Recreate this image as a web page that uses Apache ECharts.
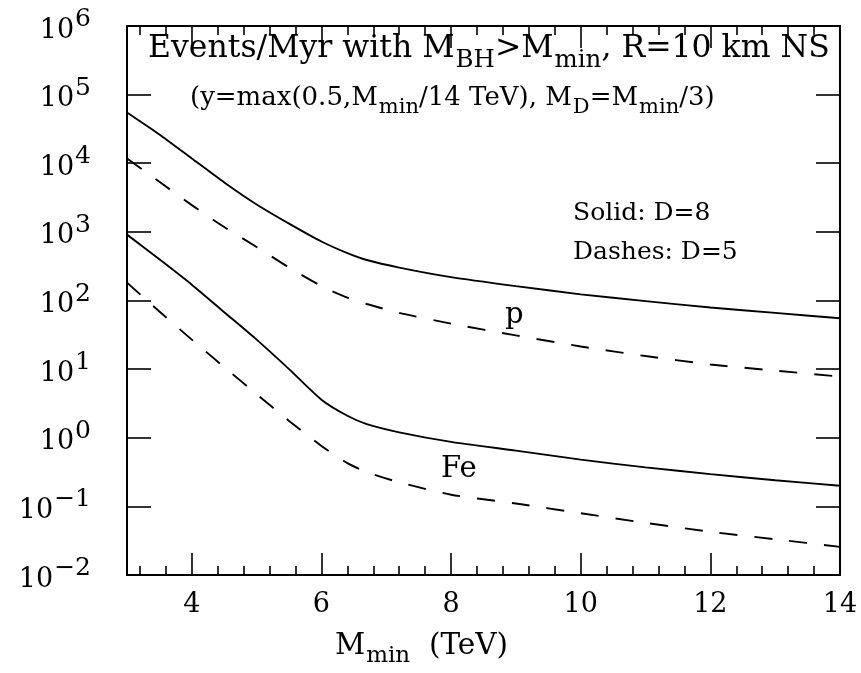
<!DOCTYPE html>
<html>
<head>
<meta charset="utf-8">
<script src="https://cdn.jsdelivr.net/npm/echarts@6/dist/echarts.min.js"></script>
<style>html,body{margin:0;padding:0;background:#fff;}#c{width:861px;height:673px;}</style>
</head>
<body>
<div id="c"></div>
<script>
// ---- data ----
const mMin = [3, 3.5, 4, 4.5, 5, 5.5, 6, 6.4, 6.7, 7.2, 8, 9, 10, 11, 12, 13, 14];
const pSolidD8 = [55000, 26300, 11750, 5250, 2510, 1320, 724, 490, 389, 302, 219, 162, 123, 98, 79, 66, 55];
const pDashD5 = [11700, 5370, 2455, 1175, 603, 302, 162, 110, 89, 66, 46, 31, 21.4, 15.5, 11.7, 9.5, 7.8];
const feSolidD8 = [912, 398, 170, 67.6, 26.9, 10.0, 3.59, 2.09, 1.58, 1.20, 0.87, 0.65, 0.48, 0.37, 0.295, 0.24, 0.20];
const feDashD5 = [182, 69, 26.9, 10.7, 4.32, 1.76, 0.759, 0.427, 0.316, 0.224, 0.148, 0.110, 0.0794, 0.0575, 0.0427, 0.0331, 0.0257];
const xMajorTicks = [4, 6, 8, 10, 12, 14];
const xMinorTicks = [3.2, 3.6, 4.4, 4.8, 5.2, 5.6, 6.4, 6.8, 7.2, 7.6, 8.4, 8.8, 9.2, 9.6, 10.4, 10.8, 11.2, 11.6, 12.4, 12.8, 13.2, 13.6];

const FONT = 'DejaVu Serif';
const pairs = (xs, ys) => xs.map((x, i) => [x, ys[i]]);

const chart = echarts.init(document.getElementById('c'), null, {renderer: 'canvas'});

const baseX = {
  type: 'value', min: 3, max: 14, gridIndex: 0,
  splitLine: {show: false},
  axisLine: {show: false},
  axisLabel: {show: false},
};
const tickLine = {color: '#000', width: 1.6};

const sup = (v) => {
  const e = Math.round(Math.log10(v));
  const s = e < 0 ? '\u2212' + Math.abs(e) : String(e);
  return '{b|10}{s|' + s + '}';
};
const supRich = {
  b: {fontFamily: FONT, fontSize: 27, fontWeight: 'normal', lineHeight: 28, color: '#000', verticalAlign: 'bottom'},
  s: {fontFamily: FONT, fontSize: 25, fontWeight: 'normal', lineHeight: 26, color: '#000', padding: [0, 0, 12, 1], verticalAlign: 'bottom'}
};
const subRich = (base, sub, pad) => ({
  a: {fontFamily: FONT, fontSize: base, fontWeight: 'normal', lineHeight: base + 2, color: '#000', verticalAlign: 'top'},
  u: {fontFamily: FONT, fontSize: sub, fontWeight: 'normal', lineHeight: sub, color: '#000', padding: [pad, 0, 0, 1], verticalAlign: 'top'}
});
const plain = (size) => ({fontFamily: FONT, fontSize: size, fontWeight: 'normal', color: '#000'});
const lineOf = (data, dash) => ({
  type: 'line', data: data, smooth: 0.2, showSymbol: false, symbol: 'none',
  lineStyle: {color: '#000', width: 1.9, type: dash ? [18, 17] : 'solid'}
});

const option = {
  backgroundColor: '#fff',
  animation: false,
  grid: {left: 127, right: 21, top: 26, bottom: 98, containLabel: false},
  title: [
    {left: 148, top: 33, padding: 0,
     text: '{a|Events/Myr with M}{u|BH}{a|>M}{u|min}{a|, R=10 km NS}',
     textStyle: {rich: subRich(31.5, 24.5, 15)}},
    {left: 190, top: 85, padding: 0,
     text: '{a|(y=max(0.5,M}{u|min}{a|/14 TeV), M}{u|D}{a|=M}{u|min}{a|/3)}',
     textStyle: {rich: subRich(26, 21, 12)}},
    {left: 573, top: 201, padding: 0, text: 'Solid: D=8', textStyle: plain(25)},
    {left: 573, top: 240, padding: 0, text: 'Dashes: D=5', textStyle: plain(25)},
    {left: 505, top: 301, padding: 0, text: 'p', textStyle: plain(29)},
    {left: 441, top: 455, padding: 0, text: 'Fe', textStyle: plain(29)},
    {left: 335, top: 631, padding: 0,
     text: '{a|M}{u|min}{a|  (TeV)}',
     textStyle: {rich: subRich(29.5, 23, 14)}}
  ],
  xAxis: [
    Object.assign({}, baseX, {
      position: 'bottom',
      axisLine: {show: true, lineStyle: {color: '#000', width: 2}},
      axisTick: {show: true, inside: true, length: 22, customValues: xMajorTicks, lineStyle: tickLine},
      axisLabel: {show: true, customValues: xMajorTicks, margin: 16, color: '#000', fontFamily: FONT, fontSize: 27}
    }),
    Object.assign({}, baseX, {
      position: 'bottom',
      axisTick: {show: true, inside: true, length: 9, customValues: xMinorTicks, lineStyle: tickLine}
    }),
    Object.assign({}, baseX, {
      position: 'top',
      axisLine: {show: true, lineStyle: {color: '#000', width: 2}},
      axisTick: {show: true, inside: true, length: 22, customValues: xMajorTicks, lineStyle: tickLine}
    }),
    Object.assign({}, baseX, {
      position: 'top',
      axisTick: {show: true, inside: true, length: 9, customValues: xMinorTicks, lineStyle: tickLine}
    })
  ],
  yAxis: [
    {type: 'log', logBase: 10, min: 0.01, max: 1e6, interval: 1, position: 'left',
     splitLine: {show: false},
     axisLine: {show: true, lineStyle: {color: '#000', width: 2}},
     axisTick: {show: true, inside: true, length: 24, lineStyle: tickLine},
     axisLabel: {show: true, margin: 36, padding: [8, 0, 0, 0], formatter: sup, rich: supRich}},
    {type: 'log', logBase: 10, min: 0.01, max: 1e6, interval: 1, position: 'right',
     splitLine: {show: false},
     axisLine: {show: true, lineStyle: {color: '#000', width: 2}},
     axisTick: {show: true, inside: true, length: 24, lineStyle: tickLine},
     axisLabel: {show: false}}
  ],
  series: [
    Object.assign({name: 'p, D=8'}, lineOf(pairs(mMin, pSolidD8), false)),
    Object.assign({name: 'p, D=5'}, lineOf(pairs(mMin, pDashD5), true)),
    Object.assign({name: 'Fe, D=8'}, lineOf(pairs(mMin, feSolidD8), false)),
    Object.assign({name: 'Fe, D=5'}, lineOf(pairs(mMin, feDashD5), true))
  ]
};
chart.setOption(option);
</script>
</body>
</html>
